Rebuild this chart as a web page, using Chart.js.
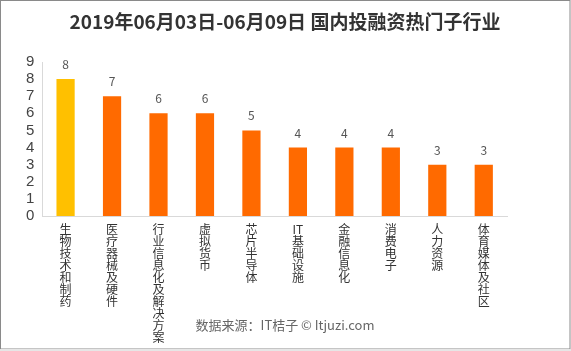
<!DOCTYPE html>
<html>
<head>
<meta charset="utf-8">
<script src="https://cdn.jsdelivr.net/npm/chart.js@4.4.0/dist/chart.umd.min.js"></script>
<style>
  html, body { margin: 0; padding: 0; background: #fff; }
  #wrap { width: 571px; height: 351px; position: relative; }
</style>
</head>
<body>
<div id="wrap"><canvas id="chart" width="571" height="351"></canvas></div>
<script>
// categories and counts
const categories = ['生物技术和制药', '医疗器械及硬件', '行业信息化及解决方案', '虚拟货币', '芯片半导体',
    'IT基础设施', '金融信息化', '消费电子', '人力资源', '体育媒体及社区'];
const counts = [8, 7, 6, 6, 5, 4, 4, 4, 3, 3];
const titleText = '2019年06月03日-06月09日 国内投融资热门子行业';
const sourceText = '数据来源：IT桔子 © Itjuzi.com';

const FONT = '"Noto Sans CJK SC", "Microsoft YaHei", sans-serif';

// vertical labels: one character per line, "IT" kept together
function stackLabel(s) {
    const out = [];
    let i = 0;
    while (i < s.length) {
        if (s.startsWith('IT', i)) { out.push('IT'); i += 2; }
        else { out.push(s[i]); i++; }
    }
    return out;
}

const barColors = counts.map((v, i) => i === 0 ? '#FFC000' : '#FF6A00');

// title, value labels above bars, source line, frame
const extras = {
    id: 'extras',
    afterDatasetsDraw(chart) {
        const ctx = chart.ctx;
        const meta = chart.getDatasetMeta(0);
        ctx.save();
        ctx.font = '12px ' + FONT;
        ctx.fillStyle = '#555';
        ctx.textAlign = 'center';
        ctx.textBaseline = 'alphabetic';
        meta.data.forEach((bar, i) => {
            ctx.fillText(String(counts[i]), bar.x, bar.y - 10);
        });
        ctx.restore();
    },
    afterDraw(chart) {
        const ctx = chart.ctx;
        ctx.save();
        ctx.textAlign = 'center';
        ctx.textBaseline = 'middle';
        ctx.font = 'bold 19px ' + FONT;
        ctx.fillStyle = '#333';
        ctx.fillText(titleText, 285, 22);
        ctx.font = '13px ' + FONT;
        ctx.fillStyle = '#666';
        ctx.fillText(sourceText, 285, 325);
        ctx.strokeStyle = '#8a8a8a';
        ctx.lineWidth = 1;
        ctx.strokeRect(0.5, 0.5, 569.5, 348.5);
        ctx.fillStyle = '#e6e6e6';
        ctx.fillRect(0, 349, 571, 2);
        ctx.restore();
    }
};

new Chart(document.getElementById('chart'), {
    type: 'bar',
    data: {
        labels: categories.map(stackLabel),
        datasets: [{
            data: counts,
            backgroundColor: barColors,
            categoryPercentage: 0.8,
            barPercentage: 0.49
        }]
    },
    options: {
        responsive: false,
        animation: false,
        layout: {
            padding: { left: 18, right: 64, top: 62, bottom: 1 }
        },
        plugins: {
            legend: { display: false },
            tooltip: { enabled: false },
            title: { display: false }
        },
        scales: {
            x: {
                grid: { display: false, drawTicks: false },
                border: { display: true, color: '#d9d9d9' },
                ticks: {
                    color: '#333',
                    font: { family: FONT, size: 12, lineHeight: 1.0 },
                    padding: 7,
                    maxRotation: 0,
                    autoSkip: false
                }
            },
            y: {
                min: 0,
                max: 9,
                grid: { display: false, drawTicks: false },
                border: { display: true, color: '#d9d9d9' },
                ticks: {
                    stepSize: 1,
                    autoSkip: false,
                    color: '#444',
                    font: { family: '"Liberation Sans", Arial, sans-serif', size: 15 },
                    padding: 8
                }
            }
        }
    },
    plugins: [extras]
});
</script>
</body>
</html>
